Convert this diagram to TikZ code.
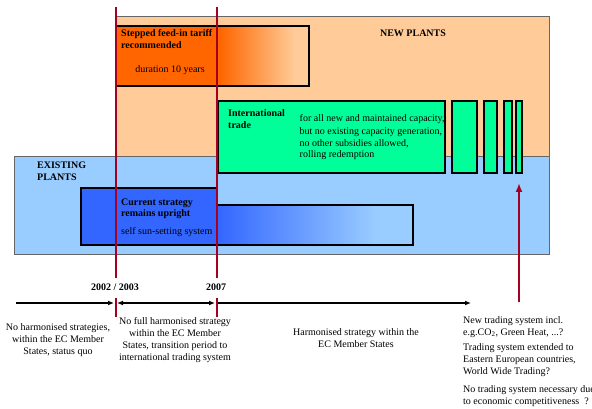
\documentclass[tikz,border=0pt]{standalone}
\usepackage{fontspec}
\setmainfont{Liberation Serif}
\usetikzlibrary{arrows.meta}
\definecolor{peach}{HTML}{FFCC99}
\definecolor{skyblue}{HTML}{99CCFF}
\definecolor{tariff}{HTML}{FF6600}
\definecolor{trade}{HTML}{00FF99}
\definecolor{current}{HTML}{3366FF}
\definecolor{marker}{RGB}{165,0,33}
\tikzset{
  areabox/.style={draw=black!60, line width=0.8pt},
  planbox/.style={draw=black, line width=1.3pt},
  headtxt/.style={font=\fontsize{10}{11.5}\selectfont\bfseries, align=left, anchor=base west, inner sep=0pt},
  bodytxt/.style={font=\fontsize{10}{12}\selectfont, inner sep=0pt, anchor=base},
  yearmark/.style={draw=marker, line width=2pt},
  timeline/.style={line width=1.3pt},
  >={Latex[length=6pt,width=5pt]},
}
\begin{document}
\begin{tikzpicture}[x=1pt,y=-1pt]
  \useasboundingbox (0,0) rectangle (592,409);
  % plant areas
  \draw[areabox, fill=peach] (116,16) rectangle (549,156);
  \draw[areabox, fill=skyblue] (14,156) rectangle (549,254);
  % international trade
  \draw[planbox, fill=trade] (218,101) rectangle (445,173);
  \foreach \xa/\xb in {452/477, 484/497, 504/512, 516/522}
    \draw[planbox, fill=trade] (\xa,101) rectangle (\xb,173);
  % feed-in tariff
  \fill[tariff] (116,26) rectangle (220,86);
  \shade[left color=tariff, right color=peach] (220,26) rectangle (295,86);
  \fill[peach] (295,26) rectangle (309,86);
  \draw[planbox] (116,26) rectangle (309,86);
  % current strategy
  \draw[planbox, fill=current] (81,188) rectangle (217,245);
  \shade[left color=current, right color=skyblue] (217,205) rectangle (375,245);
  \fill[skyblue] (375,205) rectangle (413,245);
  \draw[planbox] (217,205) rectangle (413,245);

  % base = last line
  \node[headtxt] (tariffhd) at (121,48.5) {Stepped feed-in tariff\\recommended};
  \node[bodytxt] (tariffdur) at (170,73) {duration 10 years};
  \node[headtxt, anchor=base] (newhd) at (413,37) {NEW PLANTS};
  \node[headtxt] (tradehd) at (228,128.5) {International\\trade};
  \node[bodytxt, align=left, anchor=base west] (tradetxt) at (299.5,158)
        {for all new and maintained capacity,\\but no existing capacity generation,\\no other subsidies allowed,\\rolling redemption};
  \node[headtxt] (existhd) at (37,180.5) {EXISTING\\PLANTS};
  \node[headtxt] (currhd) at (121,216.5) {Current strategy\\remains upright};
  \node[bodytxt, anchor=base west] (currtxt) at (121,234) {self sun-setting system};

  % year markers
  \coordinate (m02top) at (115.5,7);
  \coordinate (m02up) at (115.5,278);
  \coordinate (m02low) at (115.5,298);
  \coordinate (m02bot) at (115.5,317);
  \coordinate (m07top) at (217,7);
  \coordinate (m07up) at (217,278);
  \coordinate (m07low) at (217,298);
  \coordinate (m07bot) at (217,317);
  \draw[yearmark] (m02top) -- (m02up);
  \draw[yearmark] (m02low) -- (m02bot);
  \draw[yearmark] (m07top) -- (m07up);
  \draw[yearmark] (m07low) -- (m07bot);
  \node[headtxt, anchor=base] (y02) at (115,290) {2002 / 2003};
  \node[headtxt, anchor=base] (y07) at (216,290) {2007};

  % timeline
  \coordinate (tstart) at (16,303);
  \coordinate (t02l) at (114,303);
  \coordinate (t02r) at (117,303);
  \coordinate (t07l) at (215,303);
  \coordinate (t07r) at (218,303);
  \coordinate (tend) at (471,303);
  \draw[timeline, ->] (tstart) -- (t02l);
  \draw[timeline, <->] (t02r) -- (t07l);
  \draw[timeline, ->] (t07r) -- (tend);

  % future
  \coordinate (futbot) at (519,302);
  \coordinate (futtop) at (519,183);
  \draw[yearmark, -{Latex[length=9pt,width=7pt]}] (futbot) -- (futtop);

  \node[bodytxt, align=center] (phase1) at (58,354)
        {No harmonised strategies,\\within the EC Member\\States, status quo};
  \node[bodytxt, align=center] (phase2) at (175,360)
        {No full harmonised strategy\\within the EC Member\\States, transition period to\\international trading system};
  \node[bodytxt, align=center] (phase3) at (356,347)
        {Harmonised strategy within the\\EC Member States};
  \node[bodytxt, align=left, anchor=base west] (future1) at (463,335)
        {New trading system incl.\\e.g.CO\textsubscript{2}, Green Heat, ...?};
  \node[bodytxt, align=left, anchor=base west] (future2) at (463,374)
        {Trading system extended to\\Eastern European countries,\\World Wide Trading?};
  \node[bodytxt, align=left, anchor=base west] (future3) at (463,404)
        {No trading system necessary due\\to economic competitiveness ~?};
\end{tikzpicture}
\end{document}
